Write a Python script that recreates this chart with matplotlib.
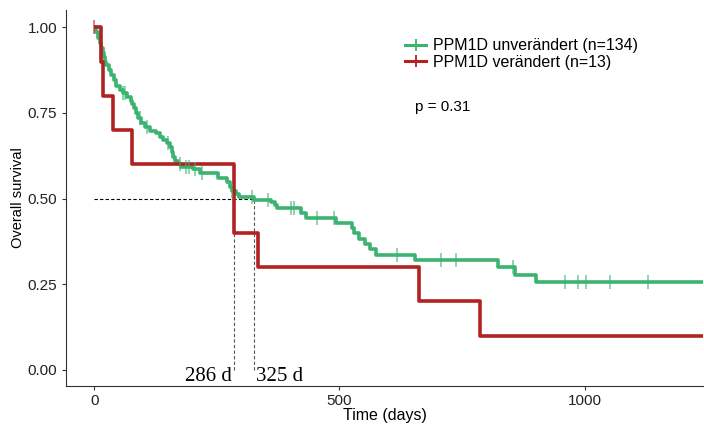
import numpy as np
import matplotlib.pyplot as plt
from matplotlib.lines import Line2D

# --------------------------------------------------
# DATEN (abgelesen aus der Kaplan-Meier-Grafik)
# --------------------------------------------------
GREEN = '#3cb371'
RED = '#b22222'

# PPM1D unverändert (n=134): Zeitpunkte der Stufen und Überleben danach
t_unv = [0, 3, 8, 12, 15, 18, 20, 22, 25, 31, 35, 40, 45, 52, 59, 66, 75, 77,
         82, 86, 90, 96, 103, 114, 127, 134, 141, 148, 155, 158, 161, 165,
         172, 178, 202, 216, 252, 270, 276, 281, 290, 296, 325, 361, 368,
         372, 421, 431, 494, 526, 530, 540, 552, 562, 574, 654, 823, 859, 901]
s_unv = [1.0, 0.985, 0.97, 0.955, 0.94, 0.925, 0.912, 0.90, 0.89, 0.875,
         0.86, 0.846, 0.83, 0.817, 0.807, 0.797, 0.785, 0.775, 0.763, 0.749,
         0.734, 0.72, 0.71, 0.698, 0.69, 0.681, 0.671, 0.661, 0.65, 0.637,
         0.622, 0.611, 0.601, 0.591, 0.585, 0.574, 0.56, 0.548, 0.535, 0.523,
         0.514, 0.506, 0.496, 0.489, 0.480, 0.472, 0.457, 0.443, 0.428,
         0.413, 0.400, 0.382, 0.368, 0.353, 0.336, 0.322, 0.300, 0.278, 0.256]
cens_unv = [59, 63, 94, 108, 151, 175, 187, 193, 206, 220, 281, 322, 354, 401,
            407, 454, 489, 617, 707, 737, 853, 961, 987, 1002, 1051, 1130]

# PPM1D verändert (n=13)
t_ver = [0, 14, 18, 39, 77, 286, 335, 662, 787]
s_ver = [1.0, 0.9, 0.8, 0.7, 0.6, 0.4, 0.3, 0.2, 0.1]
cens_ver = [0]

T_END = 1242
MEDIANS = [286, 325]
P_VALUE = 0.31

# --------------------------------------------------
# PLOT
# --------------------------------------------------
plt.rcParams['font.family'] = ['Liberation Sans', 'DejaVu Sans']
FS = 11.5

fig = plt.figure(figsize=(7.04, 4.25), dpi=100)
ax = fig.add_axes([0.094, 0.092, 0.905, 0.884])


def km_step(ax, t, s, cens, color, lw=2.6):
    tt = list(t) + [T_END]
    ss = list(s) + [s[-1]]
    ax.step(tt, ss, where='post', color=color, lw=lw, solid_capstyle='butt',
            zorder=3)
    idx = np.searchsorted(t, cens, side='right') - 1
    ys = np.array(s)[idx]
    ax.plot(cens, ys, ls='none', marker='|', ms=10, mew=1.3, color=color,
            alpha=0.6, zorder=4)


km_step(ax, t_unv, s_unv, cens_unv, GREEN)
km_step(ax, t_ver, s_ver, cens_ver, RED)

# Mediane
ax.plot([0, MEDIANS[1]], [0.5, 0.5], ls=(0, (3, 2)), color='black', lw=0.8,
        zorder=2)
for m in MEDIANS:
    ax.plot([m, m], [0, 0.5], ls=(0, (3, 2)), color='#555555', lw=0.8,
            zorder=2)
ax.text(MEDIANS[0] - 6, -0.02, f'{MEDIANS[0]} d', family='Liberation Serif',
        fontsize=15, ha='right', va='center')
ax.text(MEDIANS[1] + 6, -0.02, f'{MEDIANS[1]} d', family='Liberation Serif',
        fontsize=15, ha='left', va='center')

ax.text(654, 0.767, f'p = {P_VALUE}', fontsize=11, ha='left', va='center')

handles = [Line2D([], [], color=GREEN, lw=2.2, marker='|', ms=8, mew=1.3),
           Line2D([], [], color=RED, lw=2.2, marker='|', ms=8, mew=1.3)]
ax.legend(handles, ['PPM1D unverändert (n=134)', 'PPM1D verändert (n=13)'],
          loc='upper left', bbox_to_anchor=(0.51, 0.963), frameon=False,
          fontsize=FS, handlelength=1.3, handletextpad=0.45, labelspacing=0.1)

ax.set_xlim(-57, T_END)
ax.set_ylim(-0.047, 1.05)
ax.set_xticks([0, 500, 1000])
ax.set_yticks([0, 0.25, 0.5, 0.75, 1.0])
ax.set_yticklabels(['0.00', '0.25', '0.50', '0.75', '1.00'])
ax.tick_params(labelsize=11, length=3, color='#333333', labelcolor='#222222')
ax.tick_params(axis='x', pad=3)
ax.set_xlabel('Time (days)', fontsize=FS, labelpad=0)
ax.set_ylabel('Overall survival', fontsize=10.5, labelpad=2)
for side in ['top', 'right']:
    ax.spines[side].set_visible(False)
for side in ['left', 'bottom']:
    ax.spines[side].set_color('#333333')
    ax.spines[side].set_linewidth(0.8)

fig.savefig('out.png', dpi=100)
